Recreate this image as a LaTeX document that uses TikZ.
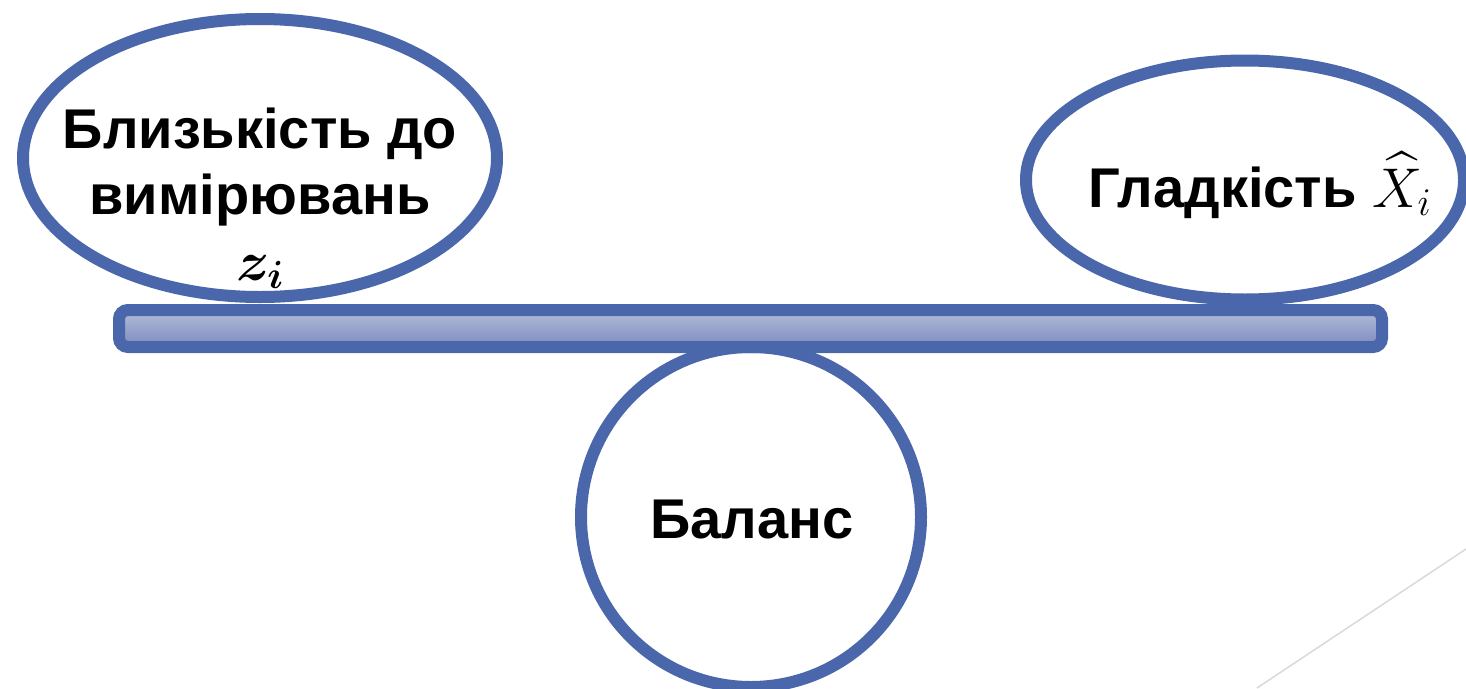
\documentclass[tikz,border=0pt]{standalone}
\usepackage{fix-cm}
\usepackage{amsmath,amssymb}
\usepackage{fontspec}
\setmainfont{Liberation Sans}
\usetikzlibrary{shapes.geometric}
\definecolor{balblue}{RGB}{74,103,172}
\definecolor{bartop}{RGB}{180,189,217}
\definecolor{barbot}{RGB}{124,137,190}
\definecolor{lightline}{RGB}{217,217,217}
\tikzset{
  pan/.style={ellipse, draw=balblue, line width=12pt, fill=white, inner sep=0pt},
  pivot/.style={circle, draw=balblue, line width=12pt, fill=white, inner sep=0pt},
  beam/.style={rectangle, draw=balblue, line width=12pt, rounded corners=9pt,
    top color=bartop, bottom color=barbot, inner sep=0pt},
  lbl/.style={font=\bfseries\fontsize{56}{66}\selectfont, align=center, inner sep=0pt},
  grayline/.style={draw=lightline, line width=1.5pt}
}
\begin{document}
\begin{tikzpicture}[x=1pt,y=-1pt]
\useasboundingbox (0,0) rectangle (1466,688);
\node[pan, minimum width=474pt, minimum height=278pt] (left) at (260,158) {};
\node[pan, minimum width=438pt, minimum height=239pt] (right) at (1245,180) {};
\node[pivot, minimum size=340pt] (pivot) at (751,517) {};
\node[beam, minimum width=1263pt, minimum height=37pt] (bar) at (750.5,328.5) {};
\node[lbl] (ltext) at (260,198) {Близькість до\\вимірювань\\$\boldsymbol{z_i}$};
\node[lbl, anchor=base] (rtext) at (1260,207) {Гладкість $\widehat{X}_{i}$};
\node[lbl, anchor=base] (ctext) at (752,538) {Баланс};
\coordinate (g1) at (1466,549);
\coordinate (g2) at (1257,688);
\draw[grayline] (g1) -- (g2);
\end{tikzpicture}
\end{document}
